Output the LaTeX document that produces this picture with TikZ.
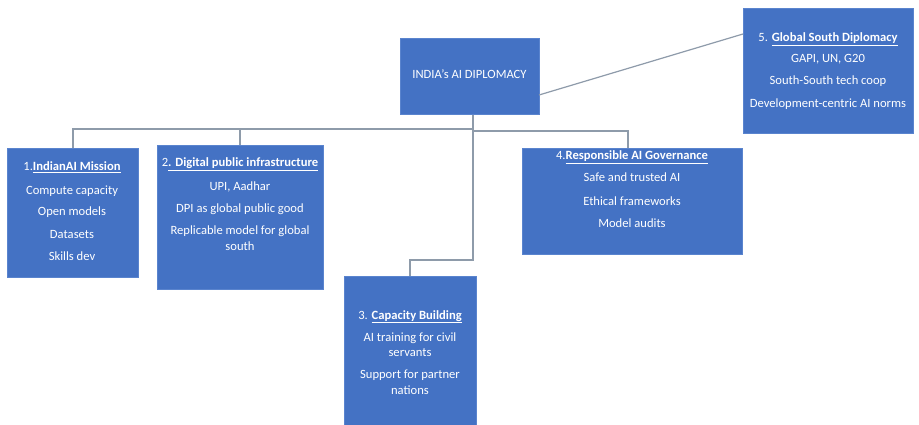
\documentclass[tikz,border=0pt]{standalone}
\usepackage{fontspec}
\setmainfont{Carlito}
\definecolor{boxblue}{HTML}{4472C4}
\definecolor{boxedge}{HTML}{5A84CE}
\definecolor{linegray}{HTML}{8E9BAA}
\tikzset{
  bluebox/.style={draw=boxedge, line width=0.6pt, fill=boxblue, inner sep=0pt},
  txt/.style={text=white, font=\fontsize{12.6}{14}\selectfont, anchor=base, inner sep=0pt},
  conn/.style={draw=linegray, line width=1.2pt}
}
\begin{document}
\begin{tikzpicture}[x=1pt,y=-1pt]
\useasboundingbox (0,0) rectangle (919,425);
\fill[white] (0,0) rectangle (919,425);
% boxes
\node[bluebox, minimum width=139pt, minimum height=76pt, anchor=north west] (c) at (400,38) {};
\node[bluebox, minimum width=170pt, minimum height=125pt, anchor=north west] (b5) at (743,8) {};
\node[bluebox, minimum width=131pt, minimum height=129pt, anchor=north west] (b1) at (7,148) {};
\node[bluebox, minimum width=166pt, minimum height=144pt, anchor=north west] (b2) at (157,145) {};
\node[bluebox, minimum width=132pt, minimum height=151pt, anchor=north west] (b3) at (344,276) {};
\node[bluebox, minimum width=220pt, minimum height=106pt, anchor=north west] (b4) at (522,148) {};
% connector coordinates
\coordinate (jc) at (473,129);
\coordinate (j1) at (73,129);
\coordinate (j2) at (240,129);
\coordinate (j4) at (628,131);
\coordinate (jc4) at (473,131);
\coordinate (k3a) at (473,260);
\coordinate (k3b) at (410,260);
\coordinate (c5) at (539,95);
\coordinate (b5in) at (743,34);
% connectors
\draw[conn] (c.south -| jc) -- (k3a) -- (k3b) -- (k3b |- b3.north);
\draw[conn] (jc) -- (j1) -- (j1 |- b1.north);
\draw[conn] (j2) -- (j2 |- b2.north);
\draw[conn] (jc4) -- (j4) -- (j4 |- b4.north);
\draw[conn] (c5) -- (b5in);
% texts
\node[txt] (ct) at (469.5,79) {INDIA's AI DIPLOMACY};

\node[txt] (t51) at (828,42) {5. \underline{\textbf{Global South Diplomacy}}};
\node[txt] (t52) at (828,63) {GAPI, UN, G20};
\node[txt] (t53) at (828,85) {South-South tech coop};
\node[txt] (t54) at (828,108) {Development-centric AI norms};

\node[txt] (t11) at (72,171) {1.\underline{\textbf{IndianAI Mission}}};
\node[txt] (t12) at (72,194) {Compute capacity};
\node[txt] (t13) at (72,215) {Open models};
\node[txt] (t14) at (72,238) {Datasets};
\node[txt] (t15) at (72,260) {Skills dev};

\node[txt] (t21) at (240,167) {2\underline{\textbf{. Digital public infrastructure}}};
\node[txt] (t22) at (240,190) {UPI, Aadhar};
\node[txt] (t23) at (240,212) {DPI as global public good};
\node[txt] (t24) at (240,234) {Replicable model for global};
\node[txt] (t25) at (240,250) {south};

\node[txt] (t31) at (410,319) {3. \underline{\textbf{Capacity Building}}};
\node[txt] (t32) at (410,341) {AI training for civil};
\node[txt] (t33) at (410,356) {servants};
\node[txt] (t34) at (410,378) {Support for partner};
\node[txt] (t35) at (410,394) {nations};

\node[txt] (t41) at (632,160) {4.\underline{\textbf{Responsible AI Governance}}};
\node[txt] (t42) at (632,182) {Safe and trusted AI};
\node[txt] (t43) at (632,205) {Ethical frameworks};
\node[txt] (t44) at (632,227) {Model audits};
\end{tikzpicture}
\end{document}
